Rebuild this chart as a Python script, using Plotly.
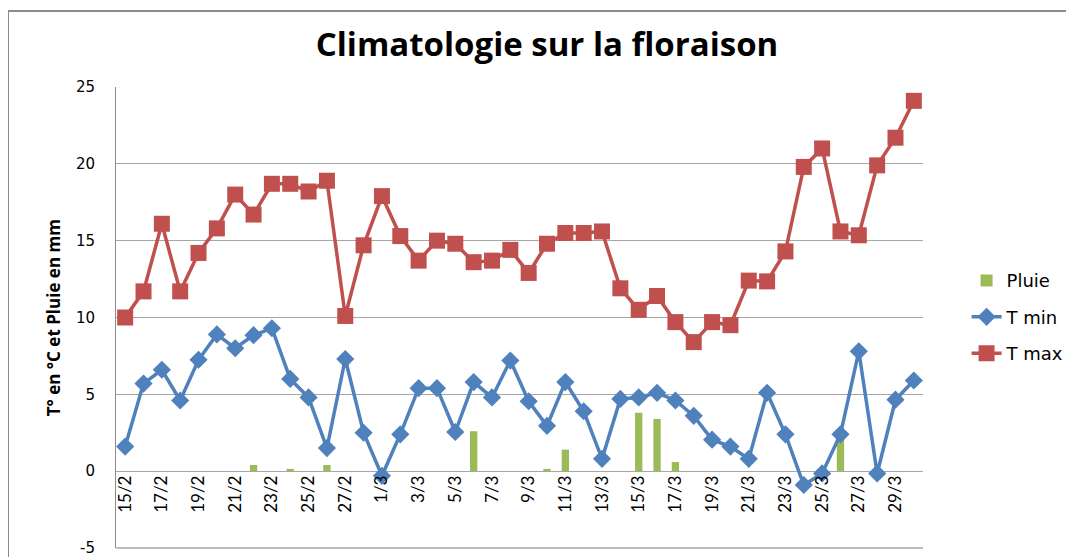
import plotly.graph_objects as go

dates = ["15/2", "16/2", "17/2", "18/2", "19/2", "20/2", "21/2", "22/2", "23/2", "24/2",
         "25/2", "26/2", "27/2", "28/2", "1/3", "2/3", "3/3", "4/3", "5/3", "6/3",
         "7/3", "8/3", "9/3", "10/3", "11/3", "12/3", "13/3", "14/3", "15/3", "16/3",
         "17/3", "18/3", "19/3", "20/3", "21/3", "22/3", "23/3", "24/3", "25/3", "26/3",
         "27/3", "28/3", "29/3", "30/3"]

t_max = [10.0, 11.7, 16.1, 11.7, 14.2, 15.8, 18.0, 16.7, 18.7, 18.7,
         18.2, 18.9, 10.1, 14.7, 17.9, 15.3, 13.7, 15.0, 14.8, 13.6,
         13.7, 14.4, 12.9, 14.8, 15.5, 15.5, 15.6, 11.9, 10.5, 11.4,
         9.7, 8.4, 9.7, 9.5, 12.4, 12.35, 14.3, 19.8, 21.0, 15.6,
         15.35, 19.9, 21.7, 24.1]

t_min = [1.6, 5.7, 6.6, 4.6, 7.25, 8.9, 8.0, 8.85, 9.3, 6.0,
         4.8, 1.5, 7.3, 2.5, -0.3, 2.4, 5.4, 5.4, 2.55, 5.8,
         4.8, 7.2, 4.55, 2.95, 5.8, 3.9, 0.8, 4.7, 4.8, 5.1,
         4.6, 3.6, 2.05, 1.6, 0.8, 5.1, 2.4, -0.9, -0.15, 2.4,
         7.8, -0.15, 4.65, 5.9]

pluie = [0, 0, 0, 0, 0, 0, 0, 0.4, 0, 0.15,
         0, 0.4, 0, 0, 0, 0, 0, 0, 0, 2.6,
         0, 0, 0, 0.15, 1.4, 0, 0, 0, 3.8, 3.4,
         0.6, 0, 0, 0, 0, 0, 0, 0, 0, 2.3,
         0, 0, 0, 0]

tick_labels = dates[::2]
y_ticks = [-5, 0, 5, 10, 15, 20, 25]
y_tick_text = ["-5", "0", "5", "10", "15", "20", "25"]

# the page body has a default 8px margin, so the figure is drawn offset by 8px
OFF = 8

fig = go.Figure()
fig.add_trace(go.Bar(x=dates, y=pluie, name="Pluie", marker=dict(color="#9BBB59", line=dict(width=0)),
                     legendgroup="a"))
fig.add_trace(go.Scatter(x=dates, y=t_min, name="T min", mode="lines+markers",
                         line=dict(color="#4F81BD", width=3.5),
                         marker=dict(symbol="diamond", size=14, color="#4F81BD"),
                         legendgroup="b"))
fig.add_trace(go.Scatter(x=dates, y=t_max, name="T max", mode="lines+markers",
                         line=dict(color="#C0504D", width=3.5),
                         marker=dict(symbol="square", size=16, color="#C0504D"),
                         legendgroup="c"))

fig.update_layout(
    width=1074, height=557,
    margin=dict(l=116 - OFF, r=1074 - 116 + OFF - 807, t=87 - OFF, b=557 - 87 + OFF - 461,
                autoexpand=False),
    paper_bgcolor="white", plot_bgcolor="white",
    bargap=0.6,
    showlegend=True,
    legend=dict(x=1.054, y=0.62, xanchor="left", yanchor="top",
                font=dict(family="DejaVu Sans, sans-serif", size=18, color="black"),
                tracegroupgap=10, bgcolor="rgba(0,0,0,0)"),
    title=dict(text="<b>Climatologie sur la floraison</b>", x=(547 - OFF) / 1074, xanchor="center",
               xref="container", y=1 - (44 - OFF) / 557, yanchor="middle", yref="container",
               font=dict(family="Open Sans, sans-serif", size=33, color="black")),
    xaxis=dict(type="category", tickmode="array", tickvals=tick_labels, ticktext=tick_labels,
               tickangle=-90, showgrid=False, zeroline=False, showline=False, ticks="",
               anchor="free", position=5 / 30, range=[-0.5, len(dates) - 0.5], automargin=False,
               tickfont=dict(family="Lato, sans-serif", size=17, color="black")),
    yaxis=dict(range=[-5, 25], tickmode="array", tickvals=y_ticks, ticktext=y_tick_text,
               showgrid=True, gridcolor="#A6A6A6", gridwidth=1,
               zeroline=False, showline=True, linecolor="#8C8C8C", linewidth=1,
               ticks="", ticklabelstandoff=17, domain=[0, 1], automargin=False,
               tickfont=dict(family="DejaVu Sans, sans-serif", size=15, color="black")),
    annotations=[dict(text="<b>T° en °C et Pluie en mm</b>", xref="paper", yref="paper",
                      x=-0.077, y=0.5, textangle=-90, showarrow=False,
                      xanchor="center", yanchor="middle",
                      font=dict(family="Open Sans, sans-serif", size=17, color="black"))],
    shapes=[
        dict(type="line", xref="paper", yref="paper", x0=0, x1=1, y0=0, y1=0,
             line=dict(color="#A6A6A6", width=1.5)),
        dict(type="line", xref="paper", yref="paper", x0=(8 - 116) / 807, x1=1.2,
             y0=(548 - 11) / 461, y1=(548 - 11) / 461, line=dict(color="#8C8C8C", width=2)),
        dict(type="line", xref="paper", yref="paper", x0=(8 - 116) / 807, x1=(8 - 116) / 807,
             y0=(548 - 11) / 461, y1=-0.1, line=dict(color="#8C8C8C", width=2)),
    ],
)

fig.write_html("out.html")
